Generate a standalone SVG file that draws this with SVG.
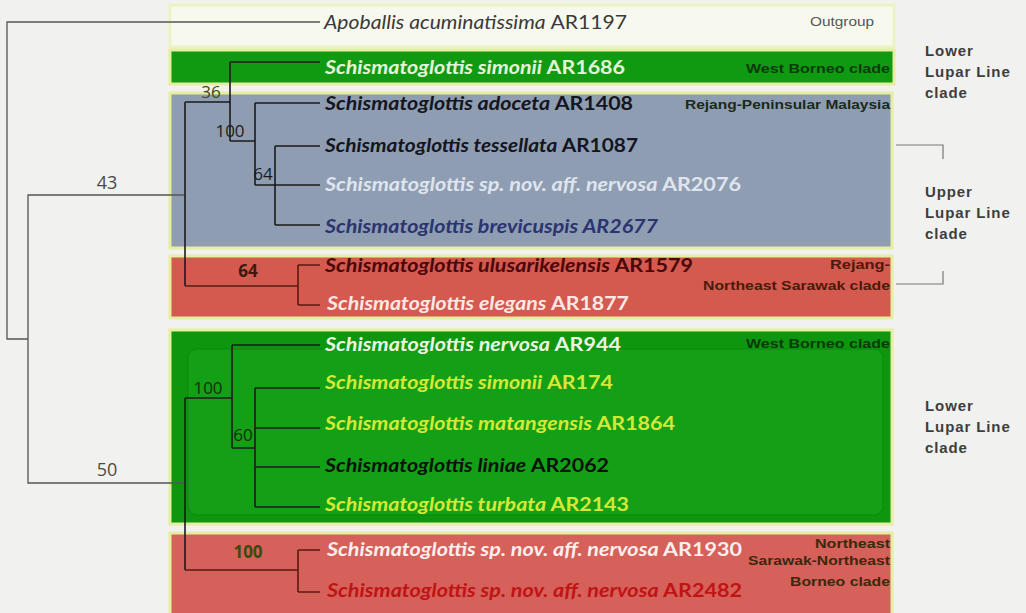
<svg xmlns="http://www.w3.org/2000/svg" width="1026" height="613" viewBox="0 0 1026 613">
<defs>
<style>
.bg{fill:#f1f1ef}
.box{stroke:#e6eea0;stroke-width:3}
.tx{font-family:Lato,"Open Sans",sans-serif;font-size:19px;font-weight:700}
.it{font-style:italic}
.og{font-family:Lato,"Open Sans",sans-serif;font-size:19px;font-weight:400;fill:#3a3a3a}
.cl{font-family:"Liberation Sans",Arial,sans-serif;font-size:13px;font-weight:700;text-anchor:end}
.rl{font-family:"Liberation Sans",Arial,sans-serif;font-size:15px;font-weight:700;fill:#3e3e3e;letter-spacing:0.9px}
.num{font-family:"Open Sans",Lato,sans-serif;font-size:17px;text-anchor:middle}
.outer{fill:none;stroke:#555;stroke-width:1.3}
.inner{fill:none;stroke:#1b1b1b;stroke-width:1.6}
.redl{fill:none;stroke:#5a1a12;stroke-width:1.6}
.br{fill:none;stroke:#777;stroke-width:1.2}
</style>
</defs>
<rect class="bg" x="0" y="0" width="1026" height="613"/>
<g id="boxes">
<rect x="170" y="5" width="724" height="42" fill="#f7f8ee" stroke="#edf2c4" stroke-width="3"/>
<rect class="box" x="170" y="50" width="724" height="34" fill="#109a12"/>
<rect class="box" x="170" y="93" width="722" height="155" fill="#8e9db1"/>
<rect class="box" x="170" y="256" width="722" height="62" fill="#d4594f"/>
<rect class="box" x="170" y="330" width="722" height="194" fill="#0d960e"/>
<rect x="188" y="349" width="695" height="166" rx="9" fill="#14a016" stroke="#0b880c" stroke-width="1"/>
<rect class="box" x="170" y="533" width="722" height="82" fill="#d6605a"/>
</g>
<g id="connectors">
<path class="outer" d="M320,22 H7 V339 H28"/>
<path class="outer" d="M185,195 H28 V483 H185"/>
<path class="inner" d="M185,102 V286"/>
<path class="inner" d="M185,102 H230 M230,62 V141 M230,62 H320 M230,141 H255 M255,103 V185 M255,103 H320 M255,185 H275 M275,146 V225 M275,146 H320 M275,185 H320 M275,225 H320"/>
<path class="redl" d="M185,286 H298 M298,265 V305 M298,265 H320 M298,305 H320"/>
<path class="inner" d="M185,398 V570"/>
<path class="inner" d="M185,398 H232 M232,345 V448 M232,345 H320 M232,448 H255 M255,388 V507 M255,388 H320 M255,428 H320 M255,467 H320 M255,507 H320"/>
<path class="redl" d="M185,570 H298 M298,550 V592 M298,550 H320 M298,592 H320"/>
<path class="br" d="M896,145 H943 V159 M943,271 V284 H896"/>
</g>
<g id="support">
<text class="num" x="107" y="189" fill="#4a4a4a" style="font-size:18px">43</text>
<text class="num" x="107" y="476" fill="#4a4a4a" style="font-size:18px">50</text>
<text class="num" x="211" y="98" fill="#3b4a1a">36</text>
<text class="num" x="230" y="137" fill="#1c1c1c">100</text>
<text class="num" x="263" y="180" fill="#1c1c1c">64</text>
<text class="num" x="248" y="277" fill="#3a1a10" style="font-weight:700">64</text>
<text class="num" x="208" y="394" fill="#1a2a10">100</text>
<text class="num" x="243" y="441" fill="#1a2a10">60</text>
<text class="num" x="248" y="558" fill="#3a4a10" style="font-weight:700">100</text>
</g>
<g id="taxa">
<text class="og" x="324" y="29" textLength="303" lengthAdjust="spacingAndGlyphs"><tspan class="it">Apoballis acuminatissima</tspan> AR1197</text>
<text class="tx" x="325" y="74" fill="#e4f4d6" textLength="300" lengthAdjust="spacingAndGlyphs"><tspan class="it">Schismatoglottis simonii</tspan> AR1686</text>
<text class="tx" x="325" y="110" fill="#15151f" textLength="308" lengthAdjust="spacingAndGlyphs"><tspan class="it">Schismatoglottis adoceta</tspan> AR1408</text>
<text class="tx" x="325" y="152" fill="#15151f" textLength="313" lengthAdjust="spacingAndGlyphs"><tspan class="it">Schismatoglottis tessellata</tspan> AR1087</text>
<text class="tx" x="325" y="191" fill="#dfe4ee" textLength="416" lengthAdjust="spacingAndGlyphs"><tspan class="it">Schismatoglottis sp. nov. aff. nervosa</tspan> AR2076</text>
<text class="tx it" x="325" y="233" fill="#2b3470" textLength="333" lengthAdjust="spacingAndGlyphs">Schismatoglottis brevicuspis AR2677</text>
<text class="tx" x="325" y="272" fill="#4a0808" textLength="368" lengthAdjust="spacingAndGlyphs"><tspan class="it">Schismatoglottis ulusarikelensis</tspan> AR1579</text>
<text class="tx" x="327" y="310" fill="#fbe8e4" textLength="302" lengthAdjust="spacingAndGlyphs"><tspan class="it">Schismatoglottis elegans</tspan> AR1877</text>
<text class="tx" x="325" y="351" fill="#e8f6e0" textLength="296" lengthAdjust="spacingAndGlyphs"><tspan class="it">Schismatoglottis nervosa</tspan> AR944</text>
<text class="tx" x="325" y="389" fill="#d4e838" textLength="288" lengthAdjust="spacingAndGlyphs"><tspan class="it">Schismatoglottis simonii</tspan> AR174</text>
<text class="tx" x="325" y="430" fill="#d4e838" textLength="350" lengthAdjust="spacingAndGlyphs"><tspan class="it">Schismatoglottis matangensis</tspan> AR1864</text>
<text class="tx" x="325" y="472" fill="#0a120a" textLength="284" lengthAdjust="spacingAndGlyphs"><tspan class="it">Schismatoglottis liniae</tspan> AR2062</text>
<text class="tx" x="325" y="511" fill="#d4e838" textLength="304" lengthAdjust="spacingAndGlyphs"><tspan class="it">Schismatoglottis turbata</tspan> AR2143</text>
<text class="tx" x="327" y="556" fill="#fbeeee" textLength="415" lengthAdjust="spacingAndGlyphs"><tspan class="it">Schismatoglottis sp. nov. aff. nervosa</tspan> AR1930</text>
<text class="tx" x="327" y="597" fill="#c01414" textLength="415" lengthAdjust="spacingAndGlyphs"><tspan class="it">Schismatoglottis sp. nov. aff. nervosa</tspan> AR2482</text>
</g>
<g id="clade-labels">
<text class="cl" x="874" y="26" fill="#555" style="font-weight:400" textLength="64" lengthAdjust="spacingAndGlyphs">Outgroup</text>
<text class="cl" x="890" y="73" fill="#0a3a0a" textLength="144" lengthAdjust="spacingAndGlyphs">West Borneo clade</text>
<text class="cl" x="890" y="109" fill="#1a2a1a" textLength="205" lengthAdjust="spacingAndGlyphs">Rejang-Peninsular Malaysia</text>
<text class="cl" x="890" y="269" fill="#4a1a0a" textLength="60" lengthAdjust="spacingAndGlyphs">Rejang-</text>
<text class="cl" x="890" y="290" fill="#4a1a0a" textLength="187" lengthAdjust="spacingAndGlyphs">Northeast Sarawak clade</text>
<text class="cl" x="890" y="348" fill="#0a3a0a" textLength="144" lengthAdjust="spacingAndGlyphs">West Borneo clade</text>
<text class="cl" x="890" y="548" fill="#3a2a0a" textLength="75" lengthAdjust="spacingAndGlyphs">Northeast</text>
<text class="cl" x="890" y="565" fill="#3a2a0a" textLength="142" lengthAdjust="spacingAndGlyphs">Sarawak-Northeast</text>
<text class="cl" x="890" y="586" fill="#3a2a0a" textLength="100" lengthAdjust="spacingAndGlyphs">Borneo clade</text>
</g>
<g id="group-labels">
<text class="rl" x="925" y="56">Lower</text>
<text class="rl" x="925" y="77">Lupar Line</text>
<text class="rl" x="925" y="98">clade</text>
<text class="rl" x="925" y="197">Upper</text>
<text class="rl" x="925" y="218">Lupar Line</text>
<text class="rl" x="925" y="239">clade</text>
<text class="rl" x="925" y="411">Lower</text>
<text class="rl" x="925" y="432">Lupar Line</text>
<text class="rl" x="925" y="453">clade</text>
</g>
</svg>
